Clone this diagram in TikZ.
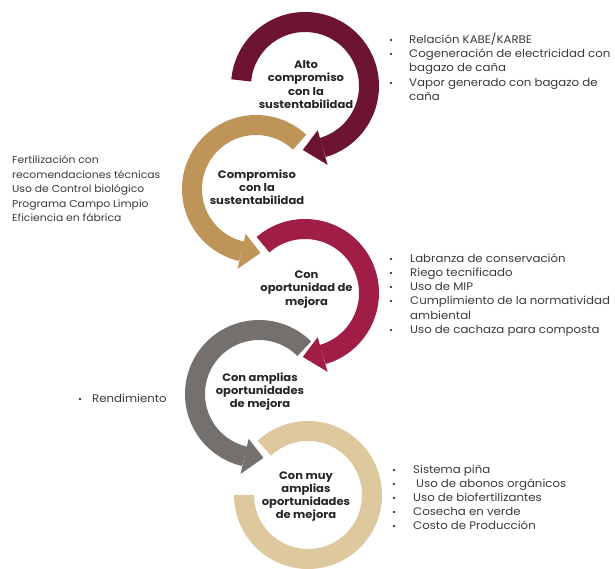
\documentclass[tikz,border=0pt]{standalone}
\usepackage{fontspec}
\setmainfont{Poppins}[FakeStretch=1.07]
\usetikzlibrary{calc}
\definecolor{cMaroon}{HTML}{6C1430}
\definecolor{cTan}{HTML}{BE9458}
\definecolor{cCrimson}{HTML}{A01E46}
\definecolor{cGray}{HTML}{74706D}
\definecolor{cLight}{HTML}{DEC89E}
\definecolor{textgray}{HTML}{3A3A3A}
\definecolor{lblgray}{HTML}{262626}
\begin{document}
\begin{tikzpicture}[x=1pt,y=1pt,
  band/.style={line width=20pt, line cap=butt},
  txt/.style={anchor=base west, inner sep=0pt, font=\fontsize{11}{13}\selectfont, text=textgray},
  ltxt/.style={anchor=base west, inner sep=0pt, font=\fontsize{10.1}{12}\selectfont, text=textgray},
  bul/.style={anchor=base west, inner sep=0pt, font=\fontsize{9}{11}\selectfont, text=textgray},
  lbl/.style={align=center, inner sep=0pt, font=\fontsize{10.8}{13.2}\selectfont\bfseries, text=lblgray}]
\useasboundingbox (0,0) rectangle (615,568);
% centres (image y converted: 568 - y)
\coordinate (c1) at (305,482);
\coordinate (c2) at (256,379);
\coordinate (c3) at (305,275);
\coordinate (c4) at (259,174);
\coordinate (c5) at (308,73);
% arc 5 (no head)
\draw[band, cLight] ($(c5)+(133:64)$) arc[start angle=133, end angle=-180, radius=64];
% arc 4
\draw[band, cGray] ($(c4)+(45:64)$) arc[start angle=45, end angle=257, radius=64];
\fill[cGray] ($(c4)+(257:46)$) -- ($(c4)+(257:82)$) -- ($(c4)+(274:64)$) -- cycle;
% arc 3
\draw[band, cCrimson] ($(c3)+(131:64)$) arc[start angle=131, end angle=-74, radius=64];
\fill[cCrimson] ($(c3)+(-74:46)$) -- ($(c3)+(-74:82)$) -- ($(c3)+(-92:64)$) -- cycle;
% arc 2
\draw[band, cTan] ($(c2)+(47:64)$) arc[start angle=47, end angle=257, radius=64];
\fill[cTan] ($(c2)+(257:46)$) -- ($(c2)+(257:82)$) -- ($(c2)+(274:64)$) -- cycle;
% arc 1
\draw[band, cMaroon] ($(c1)+(175:64)$) arc[start angle=175, end angle=-74, radius=64];
\fill[cMaroon] ($(c1)+(-74:46)$) -- ($(c1)+(-74:82)$) -- ($(c1)+(-92:64)$) -- cycle;
% labels
\node[lbl] (l1) at (306,483.5) {Alto\\compromiso\\con la\\sustentabilidad};
\node[lbl] (l2) at (257,380.7) {Compromiso\\con la\\sustentabilidad};
\node[lbl] (l3) at (306.5,278.5) {Con\\oportunidad de\\mejora};
\node[lbl] (l4) at (260,176.3) {Con amplias\\oportunidades\\de mejora};
\node[lbl] (l5) at (306,71.6) {Con muy\\amplias\\oportunidades\\de mejora};
% block A
\node[txt] (a1) at (409,524) {Relación KABE/KARBE};
\node[txt] (a2) at (409,510) {Cogeneración de electricidad con};
\node[txt] (a3) at (409,496) {bagazo de caña};
\node[txt] (a4) at (409,481) {Vapor generado con bagazo de};
\node[txt] (a5) at (409,467) {caña};
\node[bul] (ab1) at (389,524) {•};
\node[bul] (ab2) at (389,510) {•};
\node[bul] (ab4) at (389,481) {•};
% block B
\node[ltxt] (b1) at (12,404) {Fertilización con};
\node[ltxt] (b2) at (12,389.5) {recomendaciones técnicas};
\node[ltxt] (b3) at (12,375) {Uso de Control biológico};
\node[ltxt] (b4) at (12,360.5) {Programa Campo Limpio};
\node[ltxt] (b5) at (12,346) {Eficiencia en fábrica};
% block C
\node[txt] (k1) at (410,305) {Labranza de conservación};
\node[txt] (k2) at (410,291) {Riego tecnificado};
\node[txt] (k3) at (410,277) {Uso de MIP};
\node[txt] (k4) at (410,263) {Cumplimiento de la normatividad};
\node[txt] (k5) at (410,249) {ambiental};
\node[txt] (k6) at (410,235) {Uso de cachaza para composta};
\node[bul] (kb1) at (389,305) {•};
\node[bul] (kb2) at (389,291) {•};
\node[bul] (kb3) at (389,277) {•};
\node[bul] (kb4) at (389,263) {•};
\node[bul] (kb6) at (389,235) {•};
% block D
\node[txt] (d1) at (92,166) {Rendimiento};
\node[bul] (db1) at (78,166) {•};
% block E
\node[txt] (e1) at (413,95) {Sistema piña};
\node[txt] (e2) at (416,81) {Uso de abonos orgánicos};
\node[txt] (e3) at (413,67) {Uso de biofertilizantes};
\node[txt] (e4) at (413,53) {Cosecha en verde};
\node[txt] (e5) at (413,39) {Costo de Producción};
\node[bul] (eb1) at (392,95) {•};
\node[bul] (eb2) at (392,81) {•};
\node[bul] (eb3) at (392,67) {•};
\node[bul] (eb4) at (392,53) {•};
\node[bul] (eb5) at (392,39) {•};
\end{tikzpicture}
\end{document}
